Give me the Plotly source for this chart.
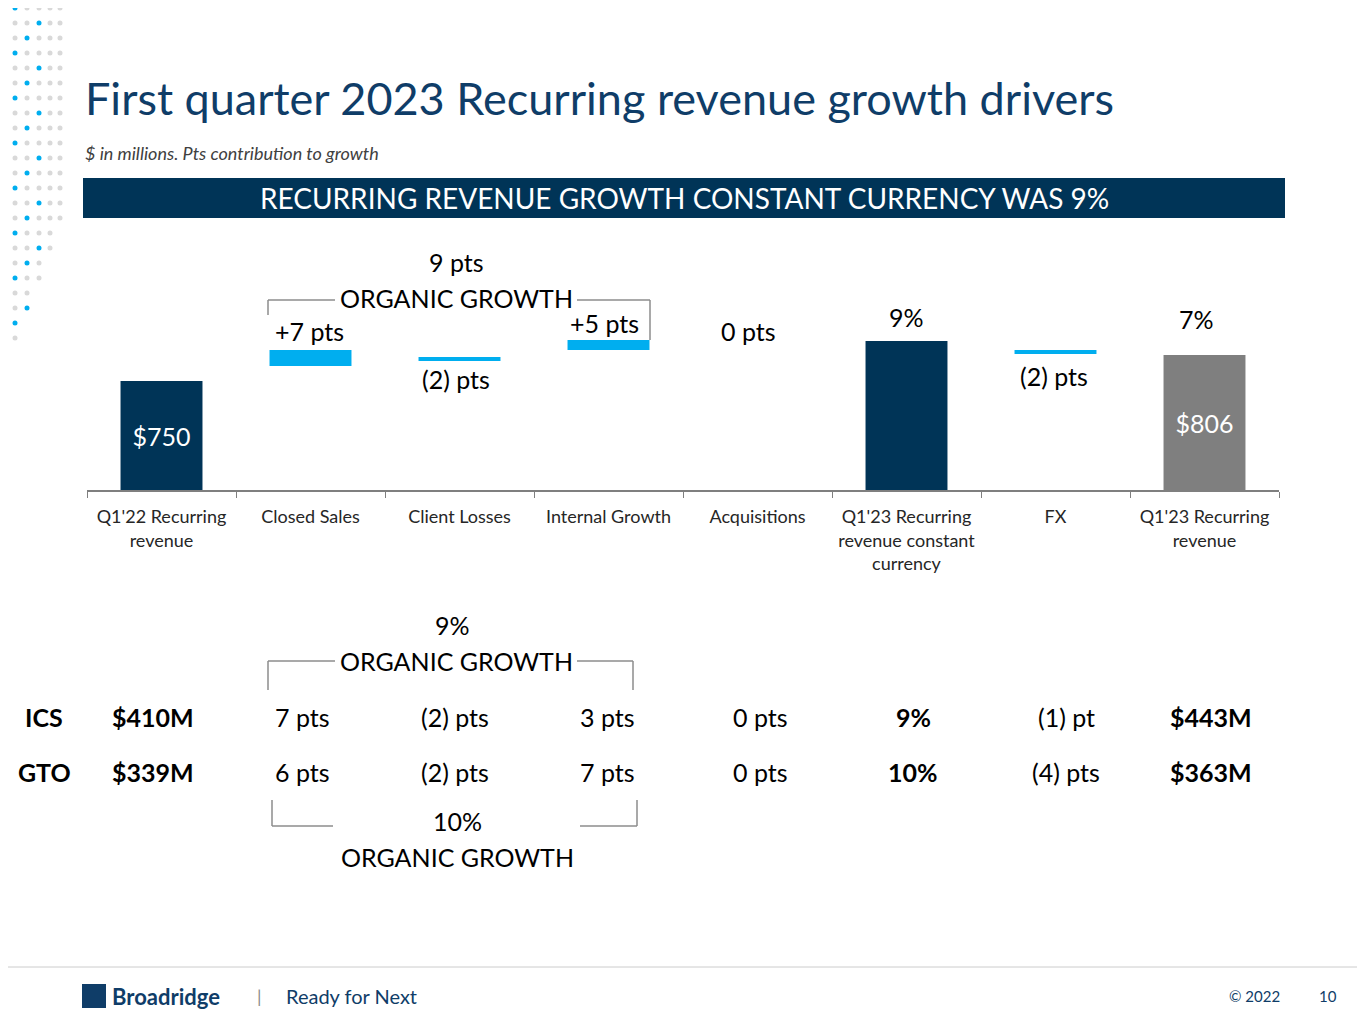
import plotly.graph_objects as go

W, H = 1365, 1024
categories = ["Q1'22 Recurring<br>revenue", "Closed Sales", "Client Losses", "Internal Growth",
              "Acquisitions", "Q1'23 Recurring<br>revenue constant<br>currency", "FX", "Q1'23 Recurring<br>revenue"]
# visual bar extents (display units, chart not to scale in the source)
bar_base = [0, 124, 129, 140, 0, 0, 136, 0]
bar_top = [109, 140, 133, 150, 0, 149, 140, 135]
bar_colors = ["#003457", "#00aeef", "#00aeef", "#00aeef", "#00aeef", "#003457", "#00aeef", "#7f7f7f"]
bar_labels = ["", "+7 pts", "(2) pts", "+5 pts", "0 pts", "9%", "(2) pts", "7%"]
inside_labels = ["$750", "", "", "", "", "", "", "$806"]

row_names = ["ICS", "GTO"]
row_start = ["$410M", "$339M"]
row_closed = ["7 pts", "6 pts"]
row_losses = ["(2) pts", "(2) pts"]
row_internal = ["3 pts", "7 pts"]
row_acq = ["0 pts", "0 pts"]
row_cc = ["9%", "10%"]
row_fx = ["(1) pt", "(4) pts"]
row_end = ["$443M", "$363M"]

OFF = 8  # page body margin
x0, x1 = 87, 1279
base_px, top_px = 490, 250
FONT = "Lato"

def px(x): return (x - OFF) / W
def py(y): return 1 - (y - OFF) / H

fig = go.Figure()
fig.add_trace(go.Bar(x=categories, y=[t - b for t, b in zip(bar_top, bar_base)], base=bar_base,
                     marker=dict(color=bar_colors, line=dict(width=0)), width=0.55,
                     text=inside_labels, textposition="inside", insidetextanchor="middle",
                     textfont=dict(color="white", size=25, family=FONT), hoverinfo="skip"))

ann = []
def T(x, y, s, size=25, color="#000", bold=False, anchor="center", italic=False, fam=FONT):
    if bold: s = "<b>" + s + "</b>"
    if italic: s = "<i>" + s + "</i>"
    ann.append(dict(x=px(x), y=py(y), xref="paper", yref="paper", text=s, showarrow=False,
                    xanchor=anchor, yanchor="middle", font=dict(size=size, color=color, family=fam)))

label_pos = [None, (309, 331), (456, 379), (604, 323), (748, 331), (906, 317), (1054, 376), (1196, 319)]
for lab, pos in zip(bar_labels, label_pos):
    if pos: T(pos[0], pos[1], lab)

T(83, 98, "First quarter 2023 Recurring revenue growth drivers", size=45, color="#0f3d68", anchor="left")
T(83, 153, "$ in millions. Pts contribution to growth", size=18, color="#404040", anchor="left", italic=True)
T(684, 198, "RECURRING REVENUE GROWTH CONSTANT CURRENCY WAS 9%", size=28, color="white")
T(456, 262, "9 pts"); T(456, 298, "ORGANIC GROWTH")
T(452, 625, "9%"); T(456, 661, "ORGANIC GROWTH")
T(457, 821, "10%"); T(457, 857, "ORGANIC GROWTH")

cols = [(44, row_names, True), (153, row_start, True), (302, row_closed, False), (455, row_losses, False),
        (607, row_internal, False), (760, row_acq, False), (913, row_cc, True), (1066, row_fx, False),
        (1211, row_end, True)]
for yy, i in ((717, 0), (772, 1)):
    for x, arr, b in cols:
        T(x, yy, arr[i], bold=b)

T(222, 996, "Broadridge", size=22, color="#0f3d68", bold=True, anchor="right")
T(259, 996, "|", size=18, color="#888")
T(351, 996, "Ready for Next", size=20, color="#0f3d68")
T(1254, 996, "© 2022", size=15, color="#0f3d68")
T(1328, 996, "10", size=15, color="#0f3d68")

shapes = [dict(type="rect", xref="paper", yref="paper", x0=px(83), x1=px(1285), y0=py(218), y1=py(178),
               fillcolor="#003457", line=dict(width=0)),
          dict(type="line", xref="paper", yref="paper", x0=0, x1=1, y0=py(967), y1=py(967),
               line=dict(color="#cccccc", width=1)),
          dict(type="rect", xref="paper", yref="paper", x0=px(82), x1=px(106), y0=py(1008), y1=py(984),
               fillcolor="#0f3d68", line=dict(width=0))]
def L(pts, color="#8c8c8c"):
    for (a, b), (c, d) in zip(pts[:-1], pts[1:]):
        shapes.append(dict(type="line", xref="paper", yref="paper", x0=px(a), y0=py(b), x1=px(c), y1=py(d),
                           line=dict(color=color, width=1.5)))
L([(268, 315), (268, 300), (335, 300)]); L([(577, 300), (650, 300), (650, 340)])
L([(268, 690), (268, 661), (335, 661)]); L([(577, 661), (633, 661), (633, 690)])
L([(272, 800), (272, 826), (333, 826)]); L([(580, 826), (637, 826), (637, 800)])

for ci, cx in enumerate([15, 27, 39, 50, 60]):
    for r in range(23):
        yy = 8 + r * 15
        if yy > 340 - ci * 30 or yy < 8: continue
        col = "#00aeef" if (r + ci) % 3 == 0 and ci < 3 else "#d9d9d9"
        shapes.append(dict(type="circle", xref="paper", yref="paper", x0=px(cx - 2.5), x1=px(cx + 2.5),
                           y0=py(yy + 2.5), y1=py(yy - 2.5), fillcolor=col, line=dict(width=0)))

fig.update_layout(width=W, height=H, margin=dict(l=0, r=0, t=0, b=0), paper_bgcolor="white",
                  plot_bgcolor="white", showlegend=False, annotations=ann, shapes=shapes,
                  xaxis=dict(domain=[px(x0), px(x1)], type="category", tickson="boundaries", ticks="outside",
                             ticklen=6, tickcolor="#7f7f7f", showline=True, linecolor="#7f7f7f", linewidth=1.5,
                             ticklabelstandoff=10,
                             showgrid=False, tickfont=dict(size=18, color="#262626", family=FONT), fixedrange=True),
                  yaxis=dict(domain=[py(base_px), py(top_px)], range=[0, base_px - top_px], visible=False,
                             showgrid=False, zeroline=False),
                  bargap=0.45)
fig.write_html("out.html")
